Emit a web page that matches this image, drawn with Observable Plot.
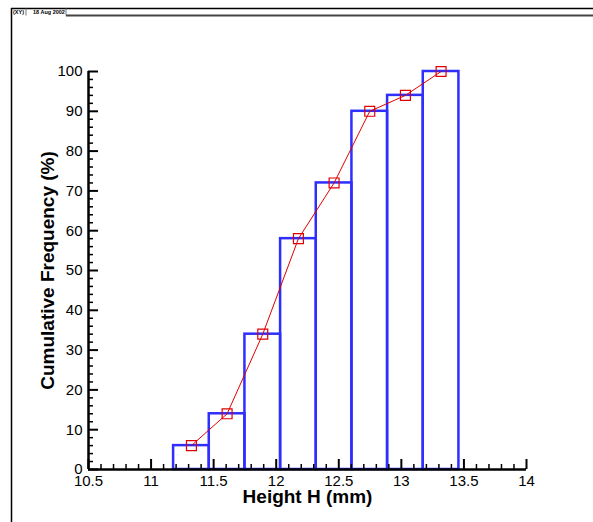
<!DOCTYPE html>
<html><head><meta charset="utf-8">
<script src="https://cdn.jsdelivr.net/npm/d3@7"></script>
<script src="https://cdn.jsdelivr.net/npm/@observablehq/plot@0.6"></script>
<style>body{margin:0;background:#fff}</style>
</head><body><div id="chart"></div>
<script>
// ---- data ----
const binEdges = [11.18, 11.465, 11.75, 12.035, 12.32, 12.605, 12.89, 13.175, 13.46];
const cumulativeFreq = [6, 14, 34, 58, 72, 90, 94, 100];
const xTickLabels = [10.5, 11, 11.5, 12, 12.5, 13, 13.5, 14];
const yTickLabels = [0, 10, 20, 30, 40, 50, 60, 70, 80, 90, 100];
const xTitle = "Height H (mm)";
const yTitle = "Cumulative Frequency (%)";
const headerLabels = ["(XY)", "18 Aug 2002"];

const bins = cumulativeFreq.map((v, i) => ({
  x1: binEdges[i], x2: binEdges[i + 1],
  mid: (binEdges[i] + binEdges[i + 1]) / 2, value: v
}));
const xMinor = d3.range(105, 141).filter(d => d % 5 !== 0).map(d => d / 10);
const yMinor = d3.range(0, 101, 2).filter(d => d % 10 !== 0);

const blue = "#2e2eff", red = "#e00000";

const chart = Plot.plot({
  width: 593, height: 522,
  marginLeft: 88, marginRight: 67, marginTop: 71, marginBottom: 53,
  x: {domain: [10.5, 14], label: null},
  y: {domain: [0, 100], label: null},
  style: {fontFamily: "'Liberation Sans', Arial, sans-serif", fontSize: "15px", color: "black", background: "white"},
  marks: [
    Plot.rect(bins, {x1: "x1", x2: "x2", y1: 0, y2: "value", fill: "none", stroke: blue, strokeWidth: 2.5}),
    Plot.line(bins, {x: "mid", y: "value", stroke: red, strokeWidth: 1}),
    Plot.dot(bins, {x: "mid", y: "value", symbol: "square", r: 5.6, stroke: red, fill: "none", strokeWidth: 1.2}),
    Plot.axisX(xMinor, {tickSize: -5, text: null, strokeWidth: 1.5, label: null}),
    Plot.axisX(xTickLabels, {tickSize: -10, text: null, strokeWidth: 2, label: null}),
    Plot.axisX(xTickLabels, {tickSize: 0, tickPadding: 6, fontSize: 15, tickFormat: d => String(d), label: null}),
    Plot.axisY(yMinor, {tickSize: -5, text: null, strokeWidth: 1.5, label: null}),
    Plot.axisY(yTickLabels, {tickSize: -10, text: null, strokeWidth: 2, label: null}),
    Plot.axisY(yTickLabels, {tickSize: 0, tickPadding: 6, fontSize: 15, tickFormat: d => String(d), label: null}),
    Plot.ruleY([0], {strokeWidth: 2.5}),
    Plot.ruleX([10.5], {strokeWidth: 2.5}),
    Plot.text([xTitle], {frameAnchor: "bottom", lineAnchor: "middle", textAnchor: "middle", dy: 27, fontWeight: "bold", fontSize: 19}),
    Plot.text([yTitle], {frameAnchor: "left", lineAnchor: "middle", textAnchor: "middle", dx: -41, rotate: -90, fontWeight: "bold", fontSize: 19})
  ]
});
document.getElementById("chart").appendChild(chart);

// page frame / header decoration
const svg = d3.select(chart);
const g = svg.append("g").attr("text-anchor", "start");
g.append("line").attr("x1", 11).attr("y1", 8.5).attr("x2", 593).attr("y2", 8.5).attr("stroke", "black").attr("stroke-width", 1.5);
g.append("line").attr("x1", 66).attr("y1", 15.5).attr("x2", 593).attr("y2", 15.5).attr("stroke", "#444").attr("stroke-width", 2);
g.append("line").attr("x1", 11.5).attr("y1", 8).attr("x2", 11.5).attr("y2", 522).attr("stroke", "black").attr("stroke-width", 1.5);
g.append("line").attr("x1", 26).attr("y1", 8).attr("x2", 26).attr("y2", 15.5).attr("stroke", "#555").attr("stroke-width", 0.8);
g.append("line").attr("x1", 66).attr("y1", 8).attr("x2", 66).attr("y2", 15.5).attr("stroke", "#555").attr("stroke-width", 0.8);
g.append("text").attr("x", 13).attr("y", 14).attr("font-size", 5.5).attr("font-weight", "bold").attr("text-anchor", "start").text(headerLabels[0]);
g.append("text").attr("x", 33).attr("y", 14).attr("font-size", 5.5).attr("font-weight", "bold").attr("text-anchor", "start").text(headerLabels[1]);
</script>
</body></html>
